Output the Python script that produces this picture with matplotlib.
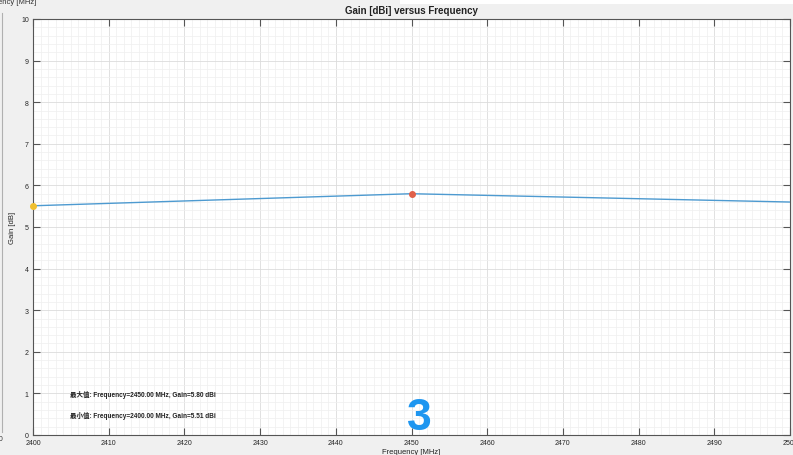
import matplotlib
matplotlib.use("Agg")
import matplotlib.pyplot as plt
from matplotlib.ticker import MultipleLocator
from matplotlib.patches import Rectangle

plt.rcParams['font.family'] = ['Liberation Sans', 'Noto Sans CJK SC', 'DejaVu Sans']

# ---------------- dados ----------------
freq_mhz = [2400, 2450, 2500]
gain_dbi = [5.51, 5.80, 5.60]

max_freq, max_gain = 2450, 5.80
min_freq, min_gain = 2400, 5.51

rotulos = [
    "最大值: Frequency=2450.00 MHz, Gain=5.80 dBi",
    "最小值: Frequency=2400.00 MHz, Gain=5.51 dBi",
]
rotulo_y = [0.99, 0.48]

W, H = 793, 456
fig = plt.figure(figsize=(W / 100, H / 100), dpi=100)
fig.patch.set_facecolor("#f0f0f0")

# faixa branca no topo (recorte da janela)
fig.add_artist(Rectangle((400 / W, 1 - 5 / H), 1, 5 / H, transform=fig.transFigure,
                         facecolor="white", edgecolor="none"))

# restos do painel vizinho cortado
fig.add_artist(plt.Line2D([2 / W, 2 / W], [0.05, 0.97], transform=fig.transFigure,
                          color="#b0b0b0", linewidth=0.8))
fig.text(-2 / W, 1 - 3 / H, "ency [MHz]", fontsize=5.5, color="#333333", va="center", ha="left")
fig.text(-4 / W, 1 - 440 / H, "00", fontsize=5, color="#333333", va="center", ha="left")

ax = fig.add_axes([33 / W, 1 - 436 / H, (790 - 33) / W, (436 - 20) / H])
ax.set_facecolor("white")

ax.plot(freq_mhz, gain_dbi, color="#4d9ad0", linewidth=1.0, zorder=3)
ax.plot([max_freq], [max_gain], "o", color="#e0604a", markersize=4, zorder=4)
ax.plot([min_freq], [min_gain], "o", color="#f0c030", markersize=4, zorder=4, clip_on=False)

for txt, yy in zip(rotulos, rotulo_y):
    ax.text(2404.9, yy, txt, fontsize=4.7, fontweight="bold", color="#222222",
            va="center", ha="left")

ax.text(2451.0, 0.42, "3", fontsize=32, fontweight="bold", color="#1e96f0",
        ha="center", va="center", zorder=5)

ax.set_xlim(2400, 2500)
ax.set_ylim(0, 10)

ax.xaxis.set_major_locator(MultipleLocator(10))
ax.xaxis.set_minor_locator(MultipleLocator(1))
ax.yaxis.set_major_locator(MultipleLocator(1))
ax.yaxis.set_minor_locator(MultipleLocator(0.2))

ax.grid(True, which="major", color="#dcdcdc", linewidth=0.6)
ax.grid(True, which="minor", color="#efefef", linewidth=0.5)
ax.set_axisbelow(True)

ax.tick_params(which="major", direction="in", length=5, width=0.8, color="#555555",
               labelsize=5, labelcolor="#262626", top=True, right=True, pad=3)
ax.tick_params(which="minor", length=0)

for s in ax.spines.values():
    s.set_color("#555555")
    s.set_linewidth(0.8)

ax.set_title("Gain [dBi] versus Frequency", fontsize=7, fontweight="bold",
             color="#222222", pad=4)
ax.set_xlabel("Frequency [MHz]", fontsize=5.5, color="#222222", labelpad=1)
ax.set_ylabel("Gain [dB]", fontsize=5.5, color="#222222", labelpad=4)

fig.savefig("out.png", dpi=100, facecolor=fig.get_facecolor())
plt.close(fig)
